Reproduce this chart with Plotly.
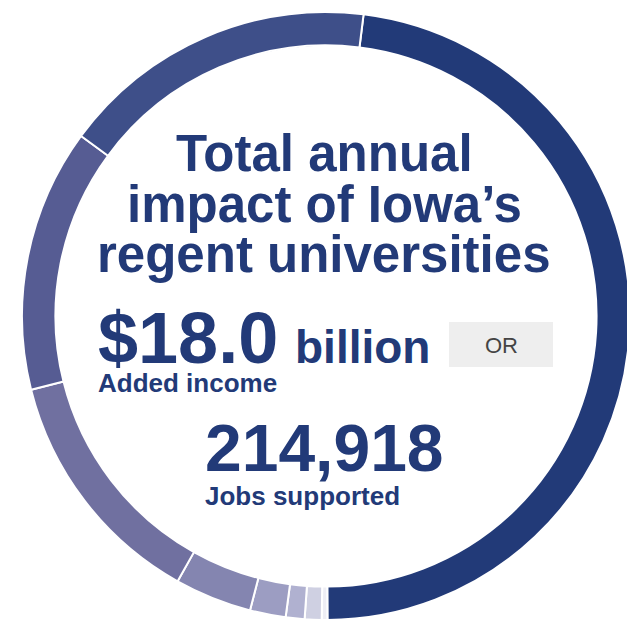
import plotly.graph_objects as go

# Share of total impact by segment (percent), clockwise from the top
segments = ["Seg A", "Seg B", "Seg C", "Seg D", "Seg E", "Seg F", "Seg G", "Seg H", "Seg I"]
shares = [48.0, 0.3, 0.9, 1.0, 1.9, 4.1, 13.0, 14.0, 16.9]
colors = ["#223A78", "#EEEEF5", "#CFD0E2", "#B0B1D0", "#9C9DC2",
          "#8485B0", "#7070A0", "#565C93", "#3E4F89"]

title_lines = ["Total annual", "impact of Iowa’s", "regent universities"]
income_value = "$18.0"
income_unit = "billion"
income_label = "Added income"
jobs_value = "214,918"
jobs_label = "Jobs supported"
or_text = "OR"

W, H = 635, 621
OFF = 8  # page body margin offset
NAVY = "#223A78"
FONT = "Liberation Sans, Arial, Helvetica, sans-serif"


def px(x):
    return (x - OFF) / W


def py(y):
    return 1 - (y - OFF) / H


fig = go.Figure(go.Pie(
    labels=segments,
    values=shares,
    hole=0.89,
    sort=False,
    direction="clockwise",
    rotation=7.1,
    marker=dict(colors=colors, line=dict(color="white", width=2)),
    textinfo="none",
    hoverinfo="label+percent",
    showlegend=False,
    domain=dict(x=[px(22), px(630)], y=[py(620), py(12)]),
))

ann = []
for line, cy in zip(title_lines, [154, 204, 254]):
    ann.append(dict(text=f"<b>{line}</b>", x=px(324), y=py(cy), xanchor="center",
                    yanchor="middle", font=dict(size=51, color=NAVY, family=FONT)))

ann.append(dict(text=f"<b>{income_value}</b>", x=px(96), y=py(338), xanchor="left",
                yanchor="middle", font=dict(size=72, color=NAVY, family=FONT)))
ann.append(dict(text=f"<b>{income_unit}</b>", x=px(293), y=py(347), xanchor="left",
                yanchor="middle", font=dict(size=46, color=NAVY, family=FONT)))
ann.append(dict(text=f"<b>{income_label}</b>", x=px(96), y=py(383), xanchor="left",
                yanchor="middle", font=dict(size=26, color=NAVY, family=FONT)))
ann.append(dict(text=f"<b>{jobs_value}</b>", x=px(203), y=py(448), xanchor="left",
                yanchor="middle", font=dict(size=66, color=NAVY, family=FONT)))
ann.append(dict(text=f"<b>{jobs_label}</b>", x=px(203), y=py(496), xanchor="left",
                yanchor="middle", font=dict(size=26, color=NAVY, family=FONT)))
ann.append(dict(text=or_text, x=px(501), y=py(345), xanchor="center",
                yanchor="middle", font=dict(size=22, color="#444444", family=FONT)))

for a in ann:
    a.update(xref="paper", yref="paper", showarrow=False)

fig.update_layout(
    width=W, height=H,
    margin=dict(l=0, r=0, t=0, b=0),
    paper_bgcolor="white",
    plot_bgcolor="white",
    annotations=ann,
    shapes=[dict(type="rect", xref="paper", yref="paper",
                 x0=px(449), x1=px(553), y0=py(367), y1=py(322),
                 fillcolor="#EEEEEE", line=dict(width=0), layer="below")],
)

fig.write_html("out.html")
